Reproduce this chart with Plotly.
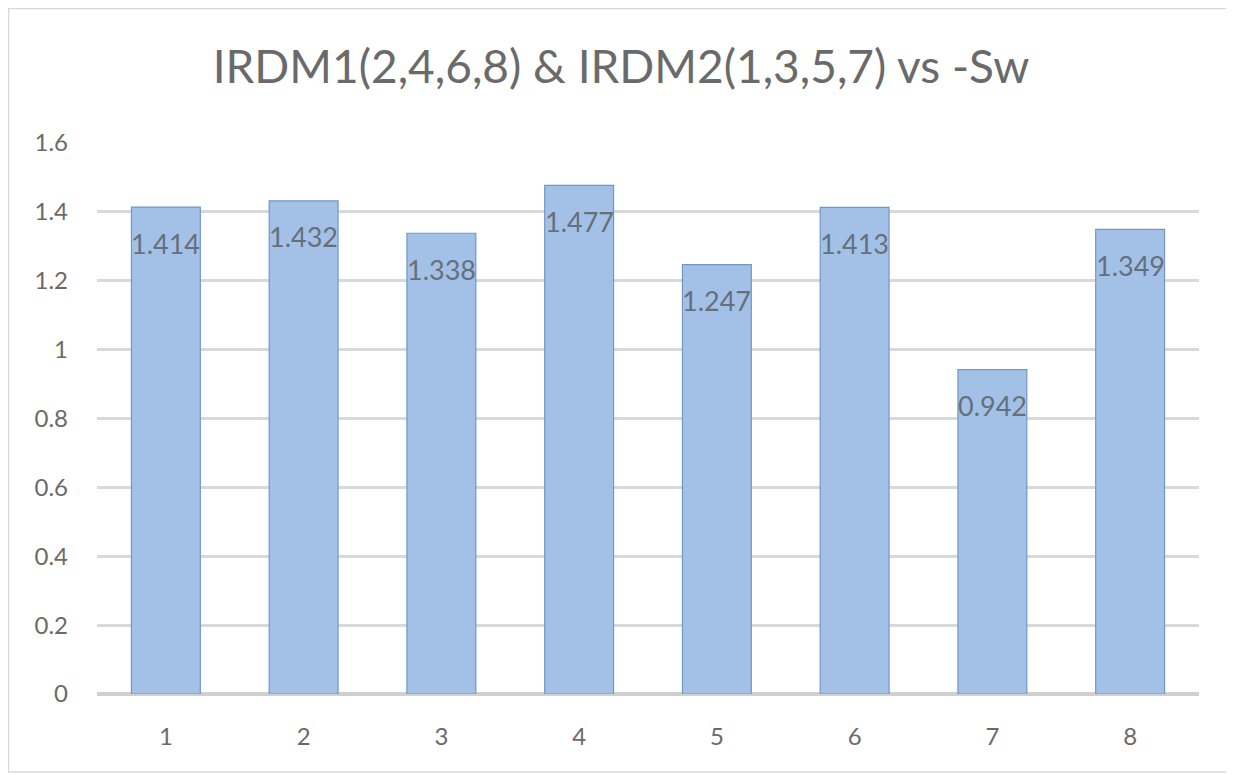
import plotly.graph_objects as go

# bar chart of -Sw per sample, IRDM1 / IRDM2
categories = ["1", "2", "3", "4", "5", "6", "7", "8"]
values = [1.414, 1.432, 1.338, 1.477, 1.247, 1.413, 0.942, 1.349]
y_ticks = [0, 0.2, 0.4, 0.6, 0.8, 1, 1.2, 1.4, 1.6]
y_tick_labels = ["0", "0.2", "0.4", "0.6", "0.8", "1", "1.2", "1.4", "1.6"]
title_text = "IRDM1(2,4,6,8) & IRDM2(1,3,5,7) vs -Sw"

FONT = "Lato, 'Open Sans', sans-serif"
TEXT_GRAY = "#6a6a6a"

# the page body has an 8px margin, so the figure is 8px smaller than the window
W, H = 1226, 767

fig = go.Figure()

fig.add_trace(go.Bar(
    x=categories,
    y=values,
    marker=dict(color="#a3c1e7", line=dict(color="#7297c5", width=1.2)),
    hoverinfo="x+y",
    showlegend=False,
))

# data labels sit a bit below the top of each bar (Excel "inside end" look)
# category axis: annotation x is the category index
for i, val in enumerate(values):
    fig.add_annotation(
        x=i, y=val, text=f"{val:.3f}",
        showarrow=False, yshift=-36, yanchor="middle",
        font=dict(family=FONT, size=27, color="#66707d"),
    )

# outer chart frame
fig.add_shape(
    type="rect", xref="paper", yref="paper",
    x0=-0.0803, x1=1.029, y0=-0.1416, y1=1.244,
    line=dict(color="#d9d9d9", width=1.5), fillcolor="rgba(0,0,0,0)",
    layer="below",
)

fig.update_layout(
    width=W,
    height=H,
    margin=dict(l=89, r=35, t=135, b=81),
    paper_bgcolor="white",
    plot_bgcolor="white",
    bargap=0.5,
    title=dict(
        text=title_text,
        x=0.5, xanchor="center",
        y=1 - 59 / H, yref="container", yanchor="middle",
        font=dict(family=FONT, size=46, color=TEXT_GRAY),
    ),
    font=dict(family=FONT, color=TEXT_GRAY),
)

fig.update_xaxes(
    type="category",
    categoryorder="array",
    categoryarray=categories,
    showgrid=False,
    showline=False,
    ticks="",
    ticklabelstandoff=26,
    tickfont=dict(family=FONT, size=24, color=TEXT_GRAY),
)

fig.update_yaxes(
    range=[0, 1.6],
    tickvals=y_ticks,
    ticktext=y_tick_labels,
    showgrid=True,
    gridcolor="#d9d9d9",
    gridwidth=2.5,
    zeroline=True,
    zerolinecolor="#d0d0d0",
    zerolinewidth=4,
    showline=False,
    ticks="",
    ticklabelstandoff=28,
    tickfont=dict(family=FONT, size=24, color=TEXT_GRAY),
)

fig.write_html("out.html")
